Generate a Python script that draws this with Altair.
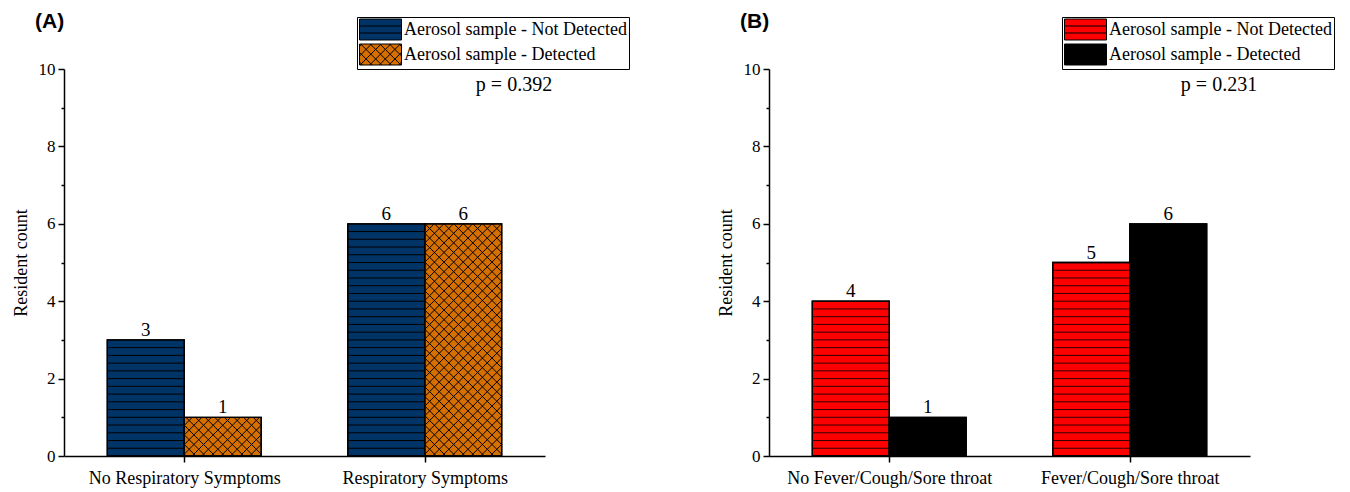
import altair as alt
import numpy as np
import pandas as pd

# ---------------- data ----------------
CATS_A = ["No Respiratory Symptoms", "Respiratory Symptoms"]
CATS_B = ["No Fever/Cough/Sore throat", "Fever/Cough/Sore throat"]
GROUPS = ["Aerosol sample - Not Detected", "Aerosol sample - Detected"]
NOT_DETECTED_A = [3, 6]
DETECTED_A = [1, 6]
NOT_DETECTED_B = [4, 5]
DETECTED_B = [1, 6]
P_TEXT_A = ["p = 0.392"]
P_TEXT_B = ["p = 0.231"]
PANEL_A = ["(A)"]
PANEL_B = ["(B)"]
Y_TITLE = "Resident count"

# ---------------- styling / layout ----------------
COLORS_A = ["#003366", "#D46F00"]
COLORS_B = ["#FF0000", "#000000"]
PATTERNS_A = ["stripe", "hatch"]
PATTERNS_B = ["stripe", "none"]
STRIPE_COLOR_A = "#000000"
STRIPE_COLOR_B = "#300000"
W, H = 481, 387
XDOM = [0, 4]
YDOM = [0, 10]
CENTERS = [1, 3]
BAR_W = 0.64
STRIPE_STEP = 0.2
HATCH_PX = 9.6
SERIF = "Liberation Serif"
SANS = "Liberation Sans"

SX = W / (XDOM[1] - XDOM[0])
SY = H / (YDOM[1] - YDOM[0])


def hatch_segments(w, h, d, phase=0.0):
    """Diagonal crosshatch segments inside a w x h box (pixel space)."""
    segs = []
    c = -w + phase
    while c < h:
        u0, u1 = max(0.0, -c), min(w, h - c)
        if u1 - u0 > 1e-6:
            segs.append((u0, u0 + c, u1, u1 + c))
        c += d
    c = phase
    while c < w + h:
        u0, u1 = max(0.0, c - h), min(w, c)
        if u1 - u0 > 1e-6:
            segs.append((u0, c - u0, u1, c - u1))
        c += d
    return segs


LX0, LX1, LY0, LY1 = -1.0, 3.2, -1.05, 1.05
RECT_PATH = f"M{LX0},{LY0}H{LX1}V{LY1}H{LX0}Z"


def legend_path(pattern):
    # unit space: scaled by sqrt(symbolSize)/2 = 10 px
    p = RECT_PATH
    if pattern == "stripe":
        for yy in (-0.35, 0.35):
            p += f"M{LX0},{yy}H{LX1}"
    elif pattern == "hatch":
        for (u0, v0, u1, v1) in hatch_segments(LX1 - LX0, LY1 - LY0, HATCH_PX / 10, 0.3):
            p += f"M{LX0 + u0:.3f},{LY1 - v0:.3f}L{LX0 + u1:.3f},{LY1 - v1:.3f}"
    return p


def make_legend(**kw):
    common = dict(orient="none", legendX=293, legendY=-52, title=None, symbolSize=400,
                  labelOffset=24, padding=2, rowPadding=0, labelFont=SERIF, labelFontSize=18,
                  labelColor="black", labelLimit=500, symbolOpacity=1)
    common.update(kw)
    return alt.Legend(**common)


def panel(cats, nd, det, colors, patterns, stripe_color, p_text, label):
    rows = []
    for i, cat in enumerate(cats):
        c = CENTERS[i]
        for g, (grp, vals) in enumerate(zip(GROUPS, [nd, det])):
            x0 = c - BAR_W + g * BAR_W
            rows.append(dict(cat=cat, group=grp, pattern_key=grp, value=vals[i], base=0,
                             x0=x0, x1=x0 + BAR_W, xm=x0 + BAR_W / 2, pattern=patterns[g]))
    bars = pd.DataFrame(rows)

    stripes, hatch = [], []
    for r in rows:
        if r["pattern"] == "stripe":
            n = int(round(r["value"] / STRIPE_STEP))
            for k in range(1, n):
                stripes.append(dict(x=r["x0"], x2=r["x1"], y=k * STRIPE_STEP))
        elif r["pattern"] == "hatch":
            for (u0, v0, u1, v1) in hatch_segments(BAR_W * SX, r["value"] * SY, HATCH_PX, 2.0):
                hatch.append(dict(x=r["x0"] + u0 / SX, y=v0 / SY, x2=r["x0"] + u1 / SX, y2=v1 / SY))
    stripes = pd.DataFrame(stripes, columns=["x", "x2", "y"])
    hatch = pd.DataFrame(hatch, columns=["x", "y", "x2", "y2"])

    label_expr = (f"datum.value == {CENTERS[0]} ? '{cats[0]}' : "
                  f"(datum.value == {CENTERS[1]} ? '{cats[1]}' : '')")
    x_axis = alt.Axis(values=CENTERS, labelExpr=label_expr, title=None, tickSize=6,
                      labelPadding=7, labelFontSize=18, labelFont=SERIF, labelColor="black",
                      labelLimit=500, domainColor="black", domainWidth=1.5,
                      tickColor="black", tickWidth=1.5, grid=False, labelFlush=False)
    y_axis = alt.Axis(values=list(range(0, 11)), title=Y_TITLE,
                      labelExpr="datum.value % 2 === 0 ? datum.label : ''",
                      tickSize={"condition": {"test": "datum.value % 2 === 0", "value": 6}, "value": 3},
                      labelPadding=3, titlePadding=8, labelFont=SERIF, labelFontSize=17,
                      labelColor="black", titleFont=SERIF, titleFontSize=18,
                      titleFontWeight="normal", titleColor="black", domainColor="black",
                      domainWidth=1.5, tickColor="black", tickWidth=1.5, grid=False)
    xs = alt.Scale(domain=XDOM, nice=False, zero=False)
    ys = alt.Scale(domain=YDOM, nice=False)

    def X(f):
        return alt.X(f, type="quantitative", scale=xs, axis=x_axis)

    def Y(f):
        return alt.Y(f, type="quantitative", scale=ys, axis=y_axis)

    shape_paths = [legend_path(p) for p in patterns]

    base = alt.Chart(bars).mark_bar(stroke="black", strokeWidth=1.3).encode(
        x=X("x0"), x2="x1", y=Y("value"), y2="base",
        color=alt.Color("group:N", scale=alt.Scale(domain=GROUPS, range=colors),
                        legend=make_legend(symbolType=RECT_PATH, strokeColor="black",
                                           fillColor="white", zindex=0)),
    )
    # empty point layer that only supplies the black outline/pattern of the legend symbols
    legend_layer = alt.Chart(bars).transform_filter("false").mark_point(
        filled=False, color="black", strokeWidth=1, opacity=1).encode(
        x=X("x0"), y=Y("value"),
        shape=alt.Shape("pattern_key:N", scale=alt.Scale(domain=GROUPS, range=shape_paths),
                        legend=make_legend(symbolStrokeColor="black", symbolStrokeWidth=1.0,
                                           zindex=2)),
    )
    layers = [base]
    if len(stripes):
        layers.append(alt.Chart(stripes).mark_rule(color=stripe_color, strokeWidth=1).encode(
            x=X("x"), x2="x2", y=Y("y")))
    if len(hatch):
        layers.append(alt.Chart(hatch).mark_rule(color="black", strokeWidth=1).encode(
            x=X("x"), x2="x2", y=Y("y"), y2="y2"))
    outline = alt.Chart(bars).mark_bar(fillOpacity=0, stroke="black", strokeWidth=1.3).encode(
        x=X("x0"), x2="x1", y=Y("value"), y2="base")
    labels = alt.Chart(bars).mark_text(font=SERIF, fontSize=19, baseline="alphabetic", dy=-4,
                                        color="black").encode(
        x=X("xm"), y=Y("value"), text="value:Q")
    ptxt = alt.Chart(pd.DataFrame({"t": p_text})).mark_text(
        font=SERIF, fontSize=20, baseline="middle", align="center", color="black").encode(
        x=alt.value(450), y=alt.value(16), text="t:N")
    plab = alt.Chart(pd.DataFrame({"t": label})).mark_text(
        font=SANS, fontSize=21, fontWeight="bold", baseline="middle", align="left", color="black").encode(
        x=alt.value(-29), y=alt.value(-47), text="t:N")
    layers += [outline, labels, ptxt, plab, legend_layer]
    return alt.layer(*layers).properties(width=W, height=H)


pa = panel(CATS_A, NOT_DETECTED_A, DETECTED_A, COLORS_A, PATTERNS_A, STRIPE_COLOR_A, P_TEXT_A, PANEL_A)
pb = panel(CATS_B, NOT_DETECTED_B, DETECTED_B, COLORS_B, PATTERNS_B, STRIPE_COLOR_B, P_TEXT_B, PANEL_B)

chart = alt.hconcat(pa, pb, spacing=224, bounds="flush").resolve_scale(
    color="independent", shape="independent").resolve_legend(
    color="independent", shape="independent").properties(
    padding={"left": 4, "top": 3, "right": 5, "bottom": 5}
).configure_view(strokeWidth=0)

chart.save("out.html", embed_options={"renderer": "svg", "actions": False})
